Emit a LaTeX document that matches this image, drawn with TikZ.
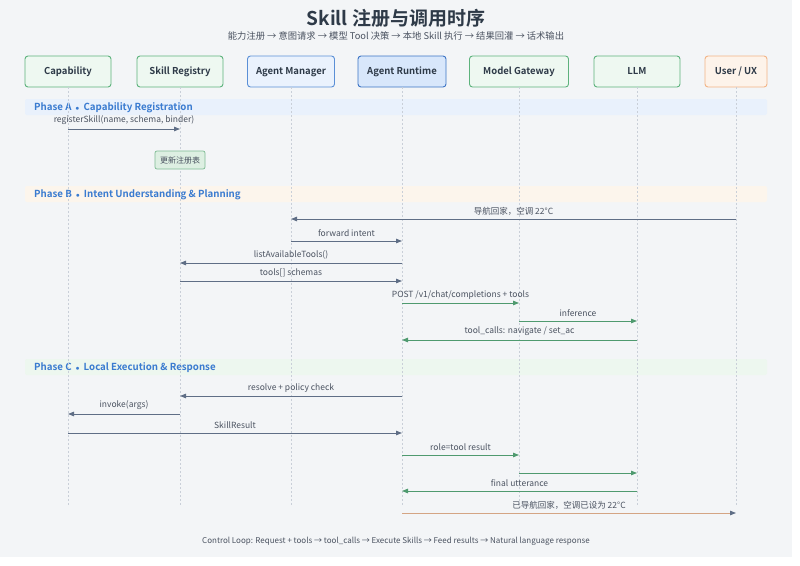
\documentclass[tikz,border=0pt]{standalone}
\usepackage{fontspec}
\setmainfont{Noto Sans CJK SC}[BoldFont={Noto Sans CJK SC Bold}]
\usetikzlibrary{arrows.meta}
\definecolor{bg}{HTML}{F3F5F7}
\definecolor{gborder}{HTML}{5DB27C}
\definecolor{gfill}{HTML}{EEF8F1}
\definecolor{bborder}{HTML}{5A8FD6}
\definecolor{bfill}{HTML}{EAF2FD}
\definecolor{rborder}{HTML}{3C74C4}
\definecolor{rfill}{HTML}{D8E7FB}
\definecolor{oborder}{HTML}{F2B486}
\definecolor{ofill}{HTML}{FDF3EA}
\definecolor{headtxt}{HTML}{2E3A48}
\definecolor{phasetxt}{HTML}{3A7BD0}
\definecolor{bandA}{HTML}{E9F1FC}
\definecolor{bandB}{HTML}{FCF5EC}
\definecolor{bandC}{HTML}{EDF7EF}
\definecolor{lifec}{HTML}{C9CFD8}
\definecolor{msgc}{HTML}{5F6E86}
\definecolor{grnc}{HTML}{4F9A6F}
\definecolor{tanc}{HTML}{D4A584}
\definecolor{lbl}{HTML}{4A5260}
\definecolor{notefill}{HTML}{DDEFE2}
\definecolor{noteborder}{HTML}{7DBB93}
\tikzset{
  actor/.style={draw, line width=0.9pt, rounded corners=3pt, minimum height=31pt, inner sep=0pt, text height=7pt, text depth=2pt, font=\bfseries\fontsize{9.5}{11}\selectfont, text=headtxt},
  greenactor/.style={actor, draw=gborder, fill=gfill},
  blueactor/.style={actor, draw=bborder, fill=bfill},
  runactor/.style={actor, draw=rborder, fill=rfill},
  orangeactor/.style={actor, draw=oborder, fill=ofill},
  lifeline/.style={draw=lifec, line width=0.7pt, dash pattern=on 2pt off 2pt},
  band/.style={rounded corners=2pt, inner sep=0pt},
  phaselbl/.style={font=\bfseries\fontsize{9.7}{11}\selectfont, text=phasetxt, anchor=base west, inner sep=0pt},
  msg/.style={draw=msgc, line width=0.9pt, -{Triangle[length=6pt,width=4.5pt]}},
  gmsg/.style={draw=grnc, line width=0.9pt, -{Triangle[length=6pt,width=4.5pt]}},
  tmsg/.style={draw=tanc, line width=0.9pt, -{Triangle[length=6pt,width=4.5pt,color=msgc]}},
  mlbl/.style={font=\fontsize{8.5}{10}\selectfont, text=lbl, inner sep=0pt, anchor=base},
}
\newcommand{\phsep}{\hspace{4pt}{\fontsize{7}{7}\selectfont$\bullet$}\hspace{4pt}}
\begin{document}
\begin{tikzpicture}[x=1pt,y=-1pt]
\useasboundingbox (0,0) rectangle (800,565);
\fill[white] (0,0) rectangle (800,565);
\fill[bg] (0,0) rectangle (792,557);

% title
\node[font=\bfseries\fontsize{19}{22}\selectfont, text=headtxt, inner sep=0pt] (title) at (396,18) {Skill 注册与调用时序};
\node[font=\fontsize{9.3}{11}\selectfont, text=lbl, inner sep=0pt] (subtitle) at (396,36) {能力注册 → 意图请求 → 模型 Tool 决策 → 本地 Skill 执行 → 结果回灌 → 话术输出};

% bands
\fill[bandA, band] (25,99) rectangle (767,115);
\fill[bandB, band] (25,186) rectangle (767,202);
\fill[bandC, band] (25,359) rectangle (767,375);
\node[phaselbl] (pa) at (34,110.5) {Phase A\phsep Capability Registration};
\node[phaselbl] (pb) at (34,197.5) {Phase B\phsep Intent Understanding \& Planning};
\node[phaselbl] (pc) at (34,370.5) {Phase C\phsep Local Execution \& Response};

% actors
\node[greenactor, minimum width=86pt] (cap) at (68,71.5) {Capability};
\node[greenactor, minimum width=86pt] (reg) at (180,71.5) {Skill Registry};
\node[blueactor, minimum width=87pt] (mgr) at (291,71.5) {Agent Manager};
\node[runactor, minimum width=88pt] (rt) at (402,71.5) {Agent Runtime};
\node[greenactor, minimum width=99pt] (gw) at (519,71.5) {Model Gateway};
\node[greenactor, minimum width=86pt] (llm) at (637,71.5) {LLM};
\node[orangeactor, minimum width=62pt] (ux) at (736,71.5) {User / UX};

% lifelines
\coordinate (lend) at (0,505);
\foreach \a in {cap,reg,mgr,rt,gw,llm,ux}{
  \draw[lifeline] (\a.south) -- (\a |- lend);
}

% rows
\foreach \n/\y in {r1/129, r2/219, r3/241, r4/263, r5/281, r6/303, r7/321, r8/340, r9/396, r10/414, r11/433, r12/455, r13/473, r14/491, r15/513}{
  \coordinate (\n) at (0,\y);
}

% Phase A
\draw[msg] (cap |- r1) -- node[mlbl, above=3.5pt] {registerSkill(name, schema, binder)} (reg |- r1);
\node[draw=noteborder, fill=notefill, rounded corners=2pt, line width=0.7pt, minimum width=50pt, minimum height=18pt, inner sep=0pt, font=\fontsize{8}{9}\selectfont, text=lbl] (note) at (180,160) {更新注册表};

% Phase B
\draw[msg] (ux |- r2) -- node[mlbl, above=3.5pt] {导航回家，空调 22°C} (mgr |- r2);
\draw[msg] (mgr |- r3) -- node[mlbl, above=3.5pt] {forward intent} (rt |- r3);
\draw[msg] (rt |- r4) -- node[mlbl, above=3.5pt] {listAvailableTools()} (reg |- r4);
\draw[msg] (reg |- r5) -- node[mlbl, above=3.5pt] {tools[] schemas} (rt |- r5);
\draw[gmsg] (rt |- r6) -- node[mlbl, above=3.5pt] {POST /v1/chat/completions + tools} (gw |- r6);
\draw[gmsg] (gw |- r7) -- node[mlbl, above=3.5pt] {inference} (llm |- r7);
\draw[gmsg] (llm |- r8) -- node[mlbl, above=3.5pt] {tool\_calls: navigate / set\_ac} (rt |- r8);

% Phase C
\draw[msg] (rt |- r9) -- node[mlbl, above=3.5pt] {resolve + policy check} (reg |- r9);
\draw[msg] (reg |- r10) -- node[mlbl, above=3.5pt] {invoke(args)} (cap |- r10);
\draw[msg] (cap |- r11) -- node[mlbl, above=3.5pt] {SkillResult} (rt |- r11);
\draw[gmsg] (rt |- r12) -- node[mlbl, above=3.5pt] {role=tool result} (gw |- r12);
\draw[gmsg] (gw |- r13) -- (llm |- r13);
\draw[gmsg] (llm |- r14) -- node[mlbl, above=3.5pt] {final utterance} (rt |- r14);
\draw[tmsg] (rt |- r15) -- node[mlbl, above=3.5pt] {已导航回家，空调已设为 22°C} (ux |- r15);

% footer
\node[font=\fontsize{8}{10}\selectfont, text=lbl, inner sep=0pt] (footer) at (396,541) {Control Loop: Request + tools → tool\_calls → Execute Skills → Feed results → Natural language response};
\end{tikzpicture}
\end{document}
